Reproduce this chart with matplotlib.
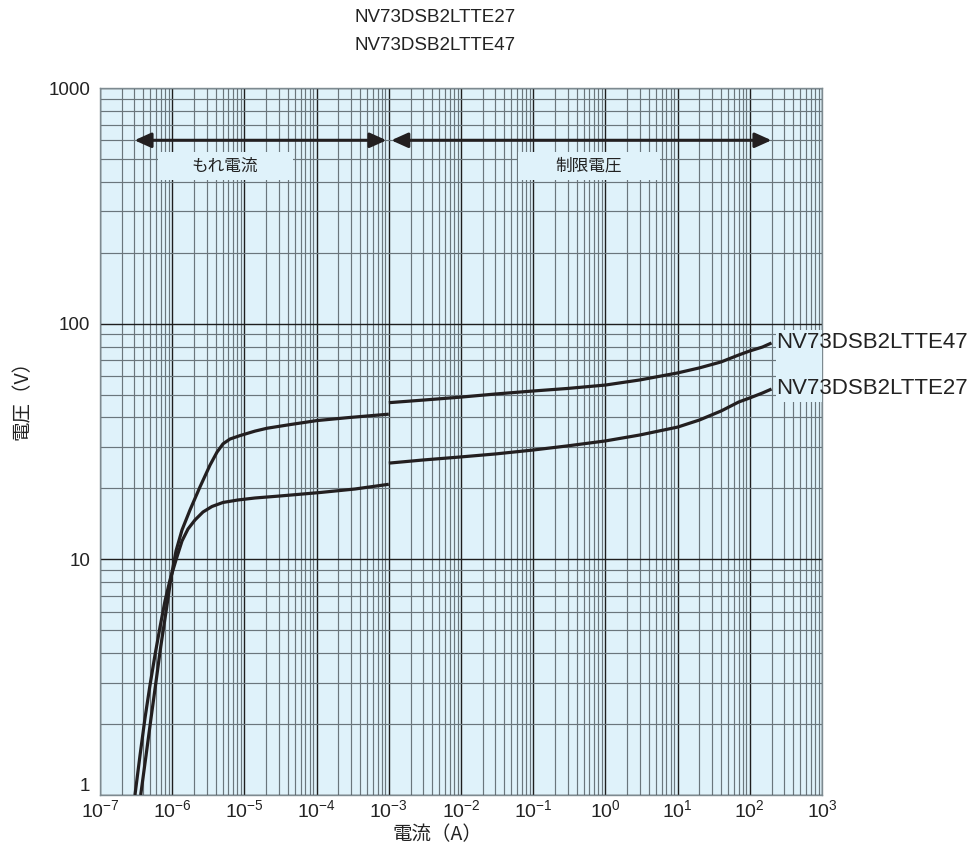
import matplotlib
matplotlib.use("Agg")
import matplotlib.pyplot as plt
from matplotlib.ticker import LogLocator, FixedLocator, FixedFormatter, NullFormatter
from matplotlib.patches import Rectangle

plt.rcParams['font.family'] = ['Liberation Sans', 'Noto Sans CJK JP', 'DejaVu Sans']
plt.rcParams['mathtext.fontset'] = 'custom'
plt.rcParams['mathtext.rm'] = 'Liberation Sans'
plt.rcParams['mathtext.it'] = 'Liberation Sans'
plt.rcParams['mathtext.bf'] = 'Liberation Sans'

# ---------------- data ----------------
title_lines = ["NV73DSB2LTTE27", "NV73DSB2LTTE47"]
series_names = ["NV73DSB2LTTE47", "NV73DSB2LTTE27"]

# NV73DSB2LTTE47 : leakage current region (A, V)
i47_leak = [3.66e-7, 4.34e-7, 5.09e-7, 5.96e-7, 6.93e-7, 8.20e-7, 9.62e-7, 1.129e-6,
            1.367e-6, 1.764e-6, 2.427e-6, 3.339e-6, 4.174e-6, 5.052e-6, 6.318e-6,
            8.69e-6, 1.40e-5, 2.06e-5, 4.28e-5, 1.01e-4, 2.90e-4, 1.0e-3]
v47_leak = [1.0, 1.47, 2.12, 3.02, 4.25, 5.98, 8.33, 10.85,
            13.32, 16.2, 20.3, 25.1, 28.5, 30.9, 32.4,
            33.5, 35.0, 36.0, 37.3, 38.8, 40.0, 41.3]
# NV73DSB2LTTE47 : clamping voltage region
i47_clamp = [1.0e-3, 3.0e-3, 1.0e-2, 3.0e-2, 1.0e-1, 3.0e-1, 1.0, 3.0, 10.0, 20.0,
             40.0, 70.0, 100.0, 150.0, 200.0]
v47_clamp = [46.2, 47.4, 48.8, 50.3, 51.8, 53.1, 54.9, 57.7, 61.8, 64.9,
             68.8, 73.6, 76.6, 79.6, 82.8]

# NV73DSB2LTTE27 : leakage current region
i27_leak = [3.05e-7, 3.58e-7, 4.20e-7, 4.93e-7, 5.78e-7, 6.78e-7, 7.95e-7, 9.32e-7,
            1.129e-6, 1.367e-6, 1.655e-6, 2.069e-6, 2.671e-6, 3.557e-6, 5.05e-6,
            8.15e-6, 1.402e-5, 3.11e-5, 1.114e-4, 3.40e-4, 1.0e-3]
v27_leak = [1.0, 1.47, 2.12, 2.93, 3.93, 5.16, 6.66, 8.17,
            9.94, 11.96, 13.45, 14.69, 15.88, 16.76, 17.43,
            17.86, 18.21, 18.57, 19.21, 19.88, 20.82]
# NV73DSB2LTTE27 : clamping voltage region
i27_clamp = [1.0e-3, 3.0e-3, 1.0e-2, 3.0e-2, 1.0e-1, 3.0e-1, 1.0, 3.0, 10.0, 20.0,
             40.0, 70.0, 100.0, 150.0, 200.0]
v27_clamp = [25.6, 26.4, 27.2, 28.0, 29.1, 30.3, 31.8, 33.7, 36.4, 39.0,
             42.6, 46.5, 48.4, 50.8, 52.8]

region_labels = ["もれ電流", "制限電圧"]
region_leak = [3.0e-7, 9.3e-4]
region_clamp = [1.08e-3, 2.0e2]
region_v = 600

xticks = [1e-7, 1e-6, 1e-5, 1e-4, 1e-3, 1e-2, 1e-1, 1e0, 1e1, 1e2, 1e3]
xtick_labels = [r'$10^{-7}$', r'$10^{-6}$', r'$10^{-5}$', r'$10^{-4}$', r'$10^{-3}$',
                r'$10^{-2}$', r'$10^{-1}$', r'$10^{0}$', r'$10^{1}$', r'$10^{2}$', r'$10^{3}$']
yticks = [1, 10, 100, 1000]
ytick_labels = ["1", "10", "100", "1000"]
xlabel = "電流（A）"
ylabel = "電圧（V）"

# ---------------- figure ----------------
W, H = 969, 847
fig = plt.figure(figsize=(W / 100, H / 100), dpi=100)
L, R, T, B = 100, 822, 88, 795
ax = fig.add_axes([L / W, 1 - B / H, (R - L) / W, (B - T) / H])
bg = '#dff2fa'
ax.set_facecolor(bg)
ax.set_xscale('log')
ax.set_yscale('log')
ax.set_xlim(1e-7, 1e3)
ax.set_ylim(1, 1000)

ax.xaxis.set_major_locator(FixedLocator(xticks))
ax.xaxis.set_major_formatter(FixedFormatter(xtick_labels))
ax.xaxis.set_minor_locator(LogLocator(base=10, subs=range(2, 10), numticks=100))
ax.xaxis.set_minor_formatter(NullFormatter())
ax.yaxis.set_major_locator(FixedLocator(yticks))
ax.yaxis.set_major_formatter(FixedFormatter(ytick_labels))
ax.yaxis.set_minor_locator(LogLocator(base=10, subs=range(2, 10), numticks=100))
ax.yaxis.set_minor_formatter(NullFormatter())
ax.tick_params(which='both', length=0)
ax.tick_params(axis='x', labelsize=14, pad=3, colors='#222222')
ax.tick_params(axis='y', labelsize=13.5, pad=7, colors='#222222')
ylabels_objs = ax.get_yticklabels()
ylabels_objs[0].set_va('bottom')

ax.set_axisbelow(True)
ax.grid(which='major', color='#1e1e1e', lw=1.0)
ax.grid(which='minor', color='#6a767c', lw=0.85)
for s in ax.spines.values():
    s.set_color('#7d8a90')
    s.set_linewidth(1.0)

# curves
lc = '#231f20'
for xs, ys in [(i47_leak, v47_leak), (i47_clamp, v47_clamp),
               (i27_leak, v27_leak), (i27_clamp, v27_clamp)]:
    ax.plot(xs, ys, color=lc, lw=2.3, zorder=4, solid_capstyle='butt',
            solid_joinstyle='round')

# region arrows
arrow_kw = dict(arrowstyle='<|-|>,head_length=1.0,head_width=0.45', color=lc, lw=2.2,
                shrinkA=0, shrinkB=0)
ax.annotate('', xy=(region_leak[1], region_v), xytext=(region_leak[0], region_v),
            arrowprops=arrow_kw, zorder=5)
ax.annotate('', xy=(region_clamp[1], region_v), xytext=(region_clamp[0], region_v),
            arrowprops=arrow_kw, zorder=5)

def px_box(x0, y0, x1, y1, **kw):
    # rectangle in figure pixel coordinates
    r = Rectangle((x0 / W, 1 - y1 / H), (x1 - x0) / W, (y1 - y0) / H,
                  transform=fig.transFigure, facecolor=bg, edgecolor='none', **kw)
    fig.add_artist(r)

px_box(158, 152, 293, 180, zorder=3)
px_box(518, 152, 660, 180, zorder=3)
fig.text(225 / W, 1 - 166 / H, region_labels[0], ha='center', va='center', fontsize=12,
         family=['Noto Sans CJK JP'], color='#222222', zorder=6)
fig.text(589 / W, 1 - 166 / H, region_labels[1], ha='center', va='center', fontsize=12,
         family=['Noto Sans CJK JP'], color='#222222', zorder=6)

# series labels at right
px_box(776, 330, 822, 402, zorder=3)
fig.text(776 / W, 1 - 342 / H, series_names[0], ha='left', va='center', fontsize=16,
         color='#222222', zorder=6)
fig.text(776 / W, 1 - 388 / H, series_names[1], ha='left', va='center', fontsize=16,
         color='#222222', zorder=6)

# titles
fig.text(435 / W, 1 - 17 / H, title_lines[0], ha='center', va='center', fontsize=13.5, color='#222222')
fig.text(435 / W, 1 - 45 / H, title_lines[1], ha='center', va='center', fontsize=13.5, color='#222222')

# axis labels
fig.text(437 / W, 1 - 835 / H, xlabel, ha='center', va='center', fontsize=14,
         family=['Noto Sans CJK JP'], color='#222222')
fig.text(22 / W, 1 - 395 / H, ylabel, ha='center', va='center', fontsize=14, rotation=90,
         family=['Noto Sans CJK JP'], color='#222222')

fig.savefig('out.png', dpi=100)
